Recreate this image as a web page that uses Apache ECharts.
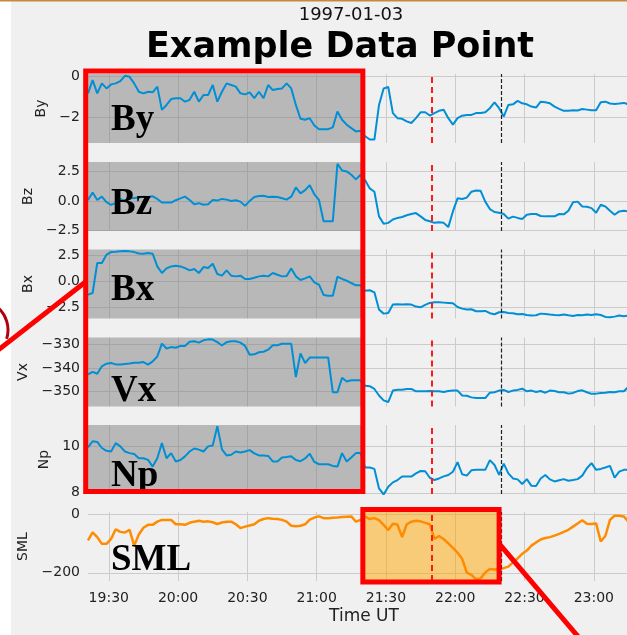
<!DOCTYPE html>
<html>
<head>
<meta charset="utf-8">
<script src="https://cdn.jsdelivr.net/npm/echarts@6/dist/echarts.min.js"></script>
<style>
  html, body { margin: 0; padding: 0; background: #fff; }
  #chart { width: 627px; height: 635px; }
</style>
</head>
<body>
<div id="chart"></div>
<script>
// samples every 2 minutes, starting 19:21 UT (minutes after midnight)
const T0 = 19 * 60 + 21;
const STEP = 2;

const By = [-0.83,-0.18,-0.83,-0.34,-0.59,-0.39,-0.34,-0.23,0.03,-0.02,
  -0.34,-0.75,-0.83,-0.75,-0.78,-0.5,-1.64,-1.4,-1.11,-1.07,
  -1.07,-1.24,-1.15,-0.75,-1.24,-0.91,-0.91,-0.42,-1.24,-0.75,
  -0.34,-0.42,-0.5,-0.83,-0.88,-0.78,-1.07,-0.75,-1.07,-0.42,
  -0.67,-0.62,-0.59,-0.34,-0.59,-1.4,-2.08,-2.13,-2.05,-2.41,
  -2.59,-2.59,-2.59,-2.5,-1.72,-2.13,-2.37,-2.54,-2.7,-2.67,
  -2.94,-3.1,-3.1,-1.4,-0.59,-0.52,-1.8,-2.05,-2.08,-2.21,
  -2.29,-2.05,-1.76,-1.76,-1.92,-1.8,-1.69,-1.64,-2.05,-2.37,
  -2.05,-1.93,-1.89,-1.89,-1.8,-1.8,-1.76,-1.56,-1.27,-1.56,
  -1.97,-1.4,-1.37,-1.2,-1.32,-1.37,-1.48,-1.53,-1.24,-1.27,
  -1.32,-1.48,-1.59,-1.69,-1.69,-1.66,-1.67,-1.6,-1.63,-1.66,
  -1.66,-1.27,-1.24,-1.33,-1.35,-1.33,-1.3,-1.37,-1.35,-1.3];

const Bz = [0.08,0.72,0.08,0.36,-0.11,-0.33,-0.19,0.17,0,0.22,
  0.25,0.28,0.36,0.33,0.39,0.17,-0.14,-0.14,-0.14,0.06,
  0.22,0.36,0.08,-0.28,-0.19,-0.33,-0.28,0.08,0.03,0.17,
  0.11,0,0.06,-0.06,-0.42,0,0.33,0.42,0.44,0.33,
  0.36,0.33,0.22,0.11,0.36,1.14,0.64,0.92,1.33,0.56,
  0.08,-1.72,-1.72,-1.72,3.14,2.58,2.5,2.22,1.83,2.22,
  1.75,1.06,0.78,-1.31,-1.94,-1.86,-1.58,-1.44,-1.36,-1.22,
  -1.11,-1.03,-1.31,-1.61,-1.72,-1.86,-1.81,-1.86,-2.22,-0.89,
  0.22,0.17,0.28,0.78,0.89,0.86,-0.06,-0.69,-0.94,-1.0,
  -1.11,-1.5,-1.33,-1.44,-1.53,-1.17,-1.11,-1.11,-1.28,-1.31,
  -1.31,-1.31,-1.11,-1.14,-0.83,-0.11,-0.06,-0.47,-0.5,-0.61,
  -1.0,-0.33,-0.47,-0.83,-1.17,-0.89,-0.83,-0.89,-0.9,-0.85];

const Bx = [-1.25,-1.09,1.79,1.79,2.6,2.85,2.88,2.92,2.95,2.92,
  2.85,2.72,2.69,2.76,2.69,1.47,0.83,1.28,1.47,1.54,
  1.47,1.31,1.09,1.22,0.83,1.41,1.31,1.73,0.74,0.58,
  1.09,0.58,0.51,0.58,0.26,0.26,0.38,0.51,0.58,0.51,
  0.83,0.67,0.51,0.54,1.28,0.51,0.16,0.32,0.51,-0.06,
  -0.29,-1.28,-1.35,-1.35,0.48,0.26,0.1,-0.13,-0.35,-0.35,
  -0.87,-0.83,-1.03,-2.69,-3.08,-3.01,-2.21,-2.18,-2.21,-2.18,
  -2.21,-2.4,-2.47,-2.24,-2.05,-1.99,-1.99,-2.02,-2.05,-2.08,
  -2.44,-2.6,-2.69,-2.66,-2.85,-2.85,-2.82,-3.04,-3.14,-2.95,
  -2.92,-3.01,-3.04,-3.14,-3.11,-3.21,-3.27,-3.24,-3.08,-3.11,
  -3.17,-3.21,-3.24,-3.17,-3.24,-3.3,-3.21,-3.24,-3.17,-3.21,
  -3.14,-3.21,-3.4,-3.43,-3.37,-3.27,-3.33,-3.27,-3.3,-3.28];

const Vx = [-342.8,-341.7,-342.5,-339.3,-338.2,-337.9,-338.5,-338.5,-338.3,-338.1,
  -337.8,-337.8,-337.5,-338.6,-337.2,-335.1,-329.6,-331.7,-331.1,-331.4,
  -330.6,-330.6,-328.8,-328.6,-329.2,-328.2,-327.8,-327.9,-329.0,-330.4,
  -329.0,-328.6,-328.6,-329.2,-330.6,-334.4,-334.2,-333.3,-333.1,-332.2,
  -330.3,-330.3,-329.7,-329.7,-329.7,-343.9,-333.8,-337.9,-335.6,-335.6,
  -335.6,-335.6,-335.6,-350.4,-350.4,-344.2,-345.8,-345.3,-345.3,-345.3,
  -347.6,-347.8,-349,-351.8,-353.9,-354.6,-349.7,-349.3,-349.3,-349,
  -349,-350,-350,-350,-349.9,-350,-350,-350.3,-349.9,-349.7,
  -349.7,-351.8,-351.9,-352.6,-352.9,-352.9,-352.9,-350.6,-350.4,-349.7,
  -349.4,-350.3,-349.7,-349.4,-348.9,-350,-349.7,-350.3,-349.9,-350.6,
  -349.7,-349.9,-350.4,-350.4,-351,-350.7,-349.9,-349.6,-350.4,-351.1,
  -351,-350.7,-350.6,-350.3,-350.4,-350,-350,-348.1,-348,-348];

const Np = [9.96,10.22,10.19,9.93,9.81,9.78,10.14,10,9.78,9.71,
  9.67,9.49,9.49,9.42,9.13,9.49,10.14,9.49,9.71,9.35,
  9.41,9.57,9.78,9.91,9.86,9.78,10,10.04,10.87,9.87,
  9.61,9.64,9.78,9.74,9.78,9.84,9.7,9.61,9.61,9.59,
  9.35,9.35,9.52,9.54,9.57,9.41,9.36,9.48,9.68,9.33,
  9.23,9.23,9.23,9.16,9.13,9.71,9.35,9.52,9.71,9.71,
  9.09,9.09,9.03,8.19,7.93,8.26,8.45,8.55,8.7,8.7,
  8.7,8.84,8.94,8.93,8.65,8.55,8.62,8.71,8.77,8.91,
  9.32,8.8,8.74,8.97,8.99,8.99,8.99,9.41,9.2,8.77,
  9.26,8.84,8.62,8.58,8.38,8.59,8.3,8.29,8.62,8.77,
  8.58,8.49,8.54,8.59,8.52,8.55,8.59,8.74,9.06,9.28,
  8.99,9.03,9.09,9.16,8.65,8.91,8.99,8.99,9.0,9.0];

const SML = [-89,-62,-78,-101,-101,-84,-51,-60,-62,-53,
  -107,-69,-46,-36,-36,-25,-19,-19,-19,-34,
  -34,-36,-29,-25,-22,-25,-24,-27,-33,-28,
  -25,-25,-34,-47,-42,-38,-34,-22,-16,-13,
  -15,-16,-19,-25,-39,-41,-39,-34,-18,-11,
  -7,-13,-13,-12,-11,-9,-8,-7,-25,-19,
  -8,-16,-13,-20,-36,-54,-32,-35,-78,-34,
  -25,-22,-24,-29,-34,-84,-74,-85,-99,-115,
  -131,-152,-199,-207,-222,-219,-199,-187,-189,-186,
  -184,-179,-164,-151,-135,-124,-107,-96,-86,-81,
  -78,-73,-67,-60,-53,-42,-31,-20,-32,-33,
  -31,-93,-74,-19,-5,-5,-7,-25,-40,-45];

const names = ['By', 'Bz', 'Bx', 'Vx', 'Np', 'SML'];
const values = [By, Bz, Bx, Vx, Np, SML];
const yMin = [-3.27, -2.55, -3.55, -356.5, 7.95, -228];
const yMax = [0.12, 3.3, 3.1, -327, 10.92, 8];
const yTicks = [[-2, 0], [-2.5, 0, 2.5], [-2.5, 0, 2.5], [-350, -340, -330], [8, 10], [-200, 0]];
const yDecimals = [0, 1, 1, 0, 0, 0];
const xTicks = [1170, 1200, 1230, 1260, 1290, 1320, 1350, 1380];   // 19:30 .. 23:00

const X_MIN = T0, X_MAX = 23 * 60 + 20;
const BOX_START = 19 * 60 + 20, BOX_END = 21 * 60 + 20;   // input window
const ZOOM_END = 22 * 60 + 19;                             // highlighted SML window
const ONSET = 21 * 60 + 50, REF = 22 * 60 + 20;

const gridTops = [74, 162, 249.5, 337.5, 425, 512];
const GRID_H = 69;
const nameGaps = [35, 51, 51, 58, 33, 56];
const bigLabelY = [120, 204.5, 290.5, 391.5, 476, 560];

const BLUE = '#008fd5', ORANGE = '#ff8c00', GRID_C = '#cbcbcb', TXT = '#222';
const FONT = 'DejaVu Sans';

const times = values[0].map((_, i) => T0 + STEP * i);

function hhmm(v) {
  const h = Math.floor(v / 60), m = Math.round(v - h * 60);
  return String(h).padStart(2, '0') + ':' + String(m).padStart(2, '0');
}
function num(v, d) {
  const s = Math.abs(v).toFixed(d);
  return v < 0 ? '\u2212' + s : s;
}

const chart = echarts.init(document.getElementById('chart'));

const option = {
  animation: false,
  backgroundColor: '#f0f0f0',
  textStyle: { fontFamily: FONT },
  grid: gridTops.map(top => ({ left: 88, right: -13, top, height: GRID_H, outerBoundsMode: 'none' })),
  xAxis: names.map((n, i) => ({
    type: 'value', gridIndex: i, min: X_MIN, max: X_MAX,
    axisLine: { show: false },
    axisTick: { show: false, customValues: xTicks },
    splitLine: { show: true, lineStyle: { color: GRID_C, width: 1 } },
    axisLabel: { show: i === 5, customValues: xTicks, formatter: hhmm, fontSize: 14, color: TXT, margin: 10, fontFamily: FONT },
    name: i === 5 ? 'Time UT' : '',
    nameLocation: 'middle', nameGap: 27,
    nameTextStyle: { fontSize: 17, color: TXT, fontFamily: FONT }
  })),
  yAxis: names.map((n, i) => ({
    type: 'value', gridIndex: i, min: yMin[i], max: yMax[i],
    axisLine: { show: false },
    axisTick: { show: false, customValues: yTicks[i] },
    splitLine: { show: true, lineStyle: { color: GRID_C, width: 1 } },
    axisLabel: { customValues: yTicks[i], formatter: v => num(v, yDecimals[i]), fontSize: 14, color: TXT, margin: 8, fontFamily: FONT },
    name: n, nameLocation: 'middle', nameGap: nameGaps[i],
    nameTextStyle: { fontSize: 14, color: TXT, fontFamily: FONT }
  })),
  series: names.map((n, i) => ({
    name: n, type: 'line', xAxisIndex: i, yAxisIndex: i,
    data: times.map((t, k) => [t, values[i][k]]),
    showSymbol: false, symbol: 'none',
    lineStyle: { color: i === 5 ? ORANGE : BLUE, width: i === 5 ? 2.5 : 2 },
    markArea: {
      silent: true,
      itemStyle: { color: i === 5 ? 'rgba(255,165,0,0.5)' : 'rgba(128,128,128,0.5)' },
      data: i === 5 ? [[{ xAxis: BOX_END }, { xAxis: ZOOM_END }]] : [[{ xAxis: X_MIN }, { xAxis: BOX_END }]]
    },
    markLine: {
      silent: true, symbol: 'none', label: { show: false },
      data: [
        { xAxis: ONSET, lineStyle: { color: '#ff1a1a', type: [6, 4], width: 2 } },
        { xAxis: REF, lineStyle: { color: '#222', type: [4, 2], width: 1.2 } }
      ]
    }
  }))
};
chart.setOption(option);

// annotations drawn on top of the panels
const px = (g, x, y) => chart.convertToPixel({ gridIndex: g }, [x, y]);
const xa = px(0, BOX_START, 0)[0], xb = px(0, BOX_END, 0)[0];
const xz = px(5, ZOOM_END, 0)[0];
const boxTop = gridTops[0] - 3, boxBottom = gridTops[4] + GRID_H - 2.5;
const c1 = px(2, BOX_START, 0);
const c2 = px(5, ZOOM_END, -100);

const graphic = [
  { type: 'rect', z: 200, shape: { x: 0, y: 0, width: 11, height: 635 }, style: { fill: '#ffffff' } },
  { type: 'rect', z: 200, shape: { x: 0, y: 0, width: 627, height: 1.5 }, style: { fill: '#c58a3a' } },
  { type: 'text', z: 200, x: 351, y: 15.5, style: { text: '1997-01-03', fontSize: 18, fontFamily: FONT, fill: '#111', align: 'center', verticalAlign: 'middle' } },
  { type: 'text', z: 200, x: 340, y: 48, style: { text: 'Example Data Point', fontSize: 35, fontWeight: 'bold', fontFamily: FONT, fill: '#000', align: 'center', verticalAlign: 'middle' } }
];
names.forEach((n, i) => {
  graphic.push({ type: 'text', z: 210, x: 111, y: bigLabelY[i],
    style: { text: n, fontSize: 37, fontWeight: 'bold', fontFamily: 'Liberation Serif', fill: '#000', align: 'left', verticalAlign: 'middle' } });
});
graphic.push(
  { type: 'rect', z: 220, shape: { x: xa, y: boxTop, width: xb - xa, height: boxBottom - boxTop },
    style: { fill: 'none', stroke: '#ff0000', lineWidth: 5 } },
  { type: 'rect', z: 220, shape: { x: xb, y: gridTops[5] - 2.5, width: xz - xb, height: GRID_H + 3.5 },
    style: { fill: 'none', stroke: '#ff0000', lineWidth: 5 } },
  { type: 'line', z: 220, shape: { x1: c1[0], y1: c1[1], x2: c1[0] - 110, y2: c1[1] + 86 },
    style: { stroke: '#ff0000', lineWidth: 5 } },
  { type: 'line', z: 220, shape: { x1: c2[0], y1: c2[1], x2: c2[0] + 90, y2: c2[1] + 106 },
    style: { stroke: '#ff0000', lineWidth: 5 } },
  { type: 'arc', z: 220, shape: { cx: -22, cy: 330, r: 30, startAngle: -0.9, endAngle: 0.3, clockwise: true },
    style: { stroke: '#b00010', lineWidth: 3, fill: 'none' } }
);
chart.setOption({ graphic });
</script>
</body>
</html>
